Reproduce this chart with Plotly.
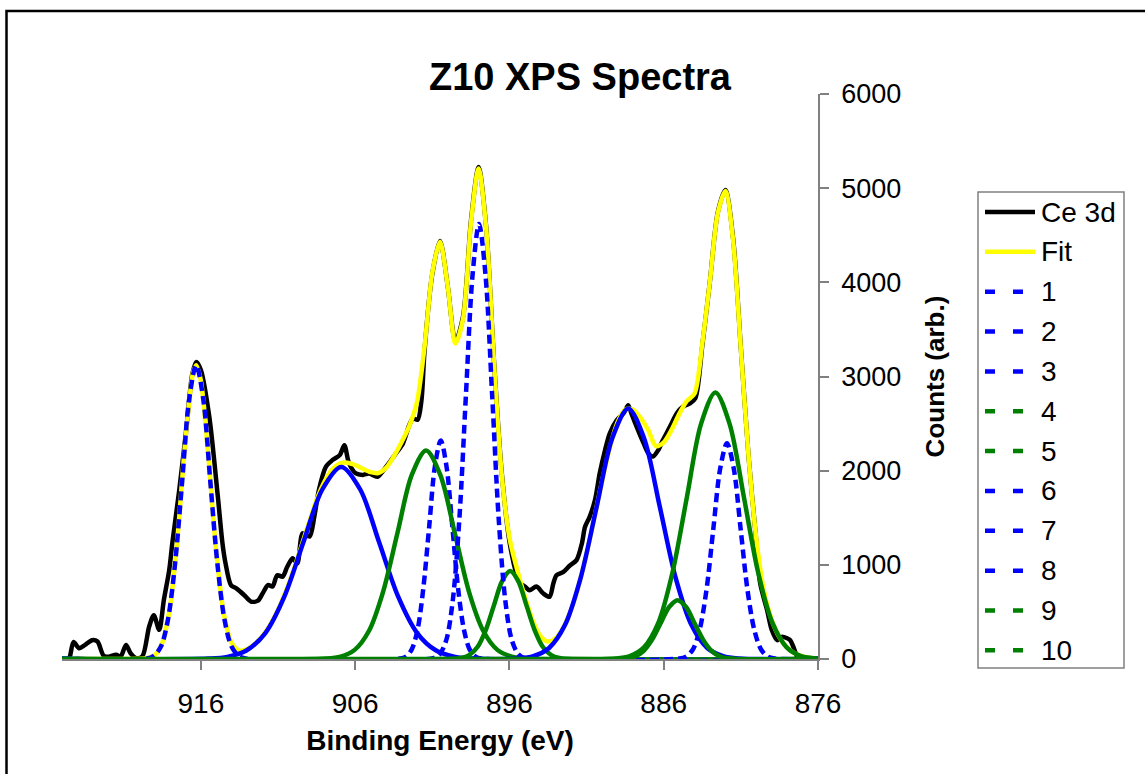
import plotly.graph_objects as go

# ---------------- Ce 3d measured spectrum ----------------
ce3d_energy = [924.6, 924.5, 924.25, 923.9, 923.5, 923.05, 922.7, 922.3, 921.95, 921.5,
               921.2, 920.85, 920.55, 920.2, 919.8, 919.35, 919.05, 918.7, 918.4, 918.05,
               917.85, 917.4, 916.95, 916.55, 916.3, 916.0, 915.45, 914.9, 914.6, 914.4,
               914.05, 913.7, 913.2, 912.75, 912.3, 912.0, 911.65, 911.35, 911.05, 910.7,
               910.4, 910.05, 909.75, 909.4, 908.95, 908.65, 908.35, 907.9, 907.45, 907.0,
               906.7, 906.4, 905.95, 905.5, 905.1, 904.55, 904.0, 903.35, 902.9, 902.5,
               902.25, 901.95, 901.7, 901.5, 901.0, 900.5, 900.0, 899.5, 899.0, 898.5,
               898.0, 897.5, 897.0, 896.5, 896.0, 895.5, 895.3, 895.0, 894.7, 894.25,
               893.8, 893.4, 893.15, 892.95, 892.5, 892.1, 891.65, 891.3, 891.1, 890.8,
               890.45, 890.15, 889.8, 889.5, 889.05, 888.6, 888.3, 888.1, 887.75, 887.3,
               887.0, 886.7, 886.35, 886.05, 885.6, 885.15, 884.75, 884.3, 883.95, 883.5,
               883.0, 882.5, 882.0, 881.5, 881.0, 880.5, 880.0, 879.75, 879.3, 879.0,
               878.65, 878.35, 878.0, 877.8, 877.6, 877.35, 877.2]
ce3d_counts = [0, 20, 180, 115, 150, 200, 185, 35, 25, 45,
               25, 150, 60, 10, 25, 345, 465, 310, 625, 945,
               1230, 1795, 2430, 3030, 3155, 3070, 2570, 1725, 1230, 1015,
               785, 750, 680, 610, 620, 695, 785, 770, 890, 875,
               980, 1070, 1015, 1335, 1300, 1510, 1795, 2040, 2115, 2165,
               2270, 2080, 1970, 1955, 1970, 1935, 2040, 2185, 2290, 2480,
               2555, 2540, 2750, 3280, 4090, 4440, 3960, 3370, 3640, 4640,
               5225, 4570, 3160, 1980, 1250, 880, 805, 770, 730, 770,
               695, 660, 805, 890, 925, 990, 1050, 1230, 1405, 1510,
               1690, 1970, 2220, 2395, 2535, 2610, 2695, 2610, 2465, 2290,
               2185, 2150, 2220, 2325, 2465, 2610, 2680, 2715, 2770, 3330,
               4020, 4740, 4980, 4460, 3300, 2150, 1250, 805, 520, 310,
               200, 235, 220, 200, 130, 25, 0]

# ---------------- Envelope of the peak fit ----------------
fit_energy = [925, 921, 920, 919.5, 919, 918.5, 918, 917.5, 917, 916.5,
              916.3, 916, 915.5, 915, 914.5, 914, 913.5, 913, 912.5, 912,
              911.5, 911, 910.5, 910, 909.5, 909, 908.5, 908, 907.5, 907,
              906.5, 906, 905.5, 905, 904.5, 904, 903.5, 903, 902.5, 902,
              901.5, 901, 900.5, 900, 899.5, 899, 898.5, 898, 897.5, 897,
              896.5, 896, 895.5, 895, 894.5, 894, 893.5, 893, 892.5, 892,
              891.5, 891, 890.5, 890, 889.5, 889, 888.5, 888, 887.5, 887,
              886.5, 886, 885.5, 885, 884.5, 884, 883.5, 883, 882.5, 882,
              881.5, 881, 880.5, 880, 879.5, 879, 878.5, 878, 877.5, 877,
              876.5, 876]
fit_counts = [0, 0, 2, 8, 40, 172, 553, 1316, 2325, 3046,
              3120, 2955, 2125, 1132, 470, 170, 90, 105, 160, 245,
              365, 520, 715, 940, 1190, 1445, 1690, 1880, 2010, 2075,
              2085, 2060, 2020, 1985, 1975, 2030, 2150, 2300, 2470, 2720,
              3320, 4100, 4430, 3960, 3350, 3620, 4620, 5210, 4560, 3150,
              1960, 1290, 950, 660, 410, 245, 185, 220, 335, 525,
              790, 1120, 1495, 1885, 2240, 2510, 2650, 2650, 2560, 2430,
              2260, 2300, 2430, 2600, 2740, 2820, 3350, 4020, 4730, 4970,
              4440, 3290, 2150, 1280, 720, 415, 230, 120, 60, 27,
              11, 5]

# ---------------- Fitted component peaks 1-10 ----------------
peak1_energy = [925, 919.50, 919.04, 918.58, 918.13, 917.67, 917.21, 916.76, 916.30,
                915.84, 915.39, 914.93, 914.47, 914.02, 913.56, 913.10, 876]
peak1_counts = [0, 5, 35, 135, 420, 1015, 1890, 2755, 3120,
                2755, 1890, 1015, 420, 135, 35, 5, 0]

peak2_energy = [925, 915.51, 914.28, 913.05, 911.82, 910.59, 909.36, 908.13, 906.90,
                905.67, 904.44, 903.21, 901.98, 900.75, 899.52, 898.29, 876]
peak2_counts = [0, 5, 23, 90, 276, 662, 1237, 1800, 2040,
                1800, 1237, 662, 276, 90, 23, 5, 0]

peak3_energy = [925, 903.08, 902.70, 902.33, 901.95, 901.58, 901.20, 900.83, 900.45,
                900.08, 899.70, 899.33, 898.95, 898.58, 898.20, 897.83, 876]
peak3_counts = [0, 5, 26, 102, 314, 753, 1407, 2047, 2320,
                2047, 1407, 753, 314, 102, 26, 5, 0]

peak4_energy = [925, 907.88, 906.95, 906.03, 905.10, 904.18, 903.25, 902.33, 901.40,
                900.48, 899.55, 898.63, 897.70, 896.78, 895.85, 894.93, 876]
peak4_counts = [0, 5, 25, 97, 300, 719, 1343, 1955, 2215,
                1955, 1343, 719, 300, 97, 25, 5, 0]

peak5_energy = [925, 899.67, 899.14, 898.61, 898.07, 897.54, 897.01, 896.48, 895.95,
                895.42, 894.89, 894.36, 893.83, 893.29, 892.76, 892.23, 876]
peak5_counts = [0, 2, 10, 41, 127, 304, 567, 825, 935,
                825, 567, 304, 127, 41, 10, 2, 0]

peak6_energy = [925, 900.94, 900.52, 900.09, 899.67, 899.24, 898.82, 898.39, 897.97,
                897.55, 897.12, 896.70, 896.27, 895.85, 895.42, 895.00, 876]
peak6_counts = [0, 10, 51, 203, 625, 1500, 2802, 4077, 4620,
                4077, 2802, 1500, 625, 203, 51, 10, 0]

peak7_energy = [925, 895.48, 894.45, 893.43, 892.40, 891.38, 890.35, 889.33, 888.30,
                887.28, 886.25, 885.23, 884.20, 883.18, 882.15, 881.13, 876]
peak7_counts = [0, 6, 30, 117, 360, 864, 1613, 2347, 2660,
                2347, 1613, 864, 360, 117, 30, 6, 0]

peak8_energy = [925, 884.99, 884.55, 884.11, 883.67, 883.22, 882.78, 882.34, 881.90,
                881.46, 881.02, 880.58, 880.13, 879.69, 879.25, 878.81, 876]
peak8_counts = [0, 5, 25, 101, 310, 744, 1389, 2021, 2290,
                2021, 1389, 744, 310, 101, 25, 5, 0]

peak9_energy = [925, 888.96, 888.41, 887.86, 887.31, 886.76, 886.20, 885.65, 885.10,
                884.55, 884.00, 883.44, 882.89, 882.34, 881.79, 881.24, 876]
peak9_counts = [0, 1, 7, 27, 85, 203, 379, 552, 625,
                552, 379, 203, 85, 27, 7, 1, 0]

peak10_energy = [925, 889.13, 888.20, 887.28, 886.35, 885.43, 884.50, 883.58, 882.65,
                 881.73, 880.80, 879.88, 878.95, 878.03, 877.10, 876.18, 876]
peak10_counts = [0, 6, 31, 124, 383, 919, 1716, 2497, 2830,
                 2497, 1716, 919, 383, 124, 31, 6, 0]

peak_names = ["1", "2", "3", "4", "5", "6", "7", "8", "9", "10"]
peak_energies = [peak1_energy, peak2_energy, peak3_energy, peak4_energy, peak5_energy,
                 peak6_energy, peak7_energy, peak8_energy, peak9_energy, peak10_energy]
peak_counts = [peak1_counts, peak2_counts, peak3_counts, peak4_counts, peak5_counts,
               peak6_counts, peak7_counts, peak8_counts, peak9_counts, peak10_counts]

x_ticks = [916, 906, 896, 886, 876]
y_ticks = [0, 1000, 2000, 3000, 4000, 5000, 6000]

BLUE = "#0000FF"
GREEN = "#008000"
BLACK = "#000000"
YELLOW = "#FFFF00"
peak_colors = [BLUE, BLUE, BLUE, GREEN, GREEN, BLUE, BLUE, BLUE, GREEN, GREEN]
# narrow peaks show their dash pattern, the broad ones read as solid strokes
peak_dashes = ["9px,5px", "solid", "9px,5px", "solid", "solid",
               "9px,5px", "solid", "9px,5px", "solid", "solid"]

FONT = "Liberation Sans, Arial, Helvetica, sans-serif"
AXIS_GREY = "#808080"

# plot-area geometry in pixels (used to place the frame and the key box)
W, H = 1145, 774
M_L, M_R, M_T, M_B = 62, 327, 94, 115
PLOT_W = W - M_L - M_R
PLOT_H = H - M_T - M_B


def px_x(px):
    return (px - M_L) / PLOT_W


def px_y(py):
    return (H - M_B - py) / PLOT_H


fig = go.Figure()

fig.add_trace(go.Scatter(
    x=ce3d_energy, y=ce3d_counts, name="Ce 3d", mode="lines", showlegend=False,
    line=dict(color=BLACK, width=4.5, shape="spline", smoothing=0.8)))
fig.add_trace(go.Scatter(
    x=fit_energy, y=fit_counts, name="Fit", mode="lines", showlegend=False,
    line=dict(color=YELLOW, width=4.5, shape="spline", smoothing=0.8)))

for name, ex, cy, col, dash in zip(peak_names, peak_energies, peak_counts,
                                    peak_colors, peak_dashes):
    fig.add_trace(go.Scatter(
        x=ex, y=cy, name=name, mode="lines", showlegend=False,
        line=dict(color=col, width=4.5, dash=dash, shape="spline", smoothing=0.9)))

# ---------------- key box at the right ----------------
key_labels = ["Ce 3d", "Fit"] + peak_names
key_colors = [BLACK, YELLOW] + peak_colors
# two short dashes per component key
key_dashes = ["solid", "solid"] + ["10px,18px,10px,40px"] * len(peak_names)
KEY_LEFT, KEY_RIGHT, KEY_TOP, KEY_BOTTOM = 978, 1124, 192, 668
ROW0, ROW_STEP = 212, 39.85

shapes = [
    # outer chart frame
    dict(type="rect", xref="paper", yref="paper",
         x0=px_x(6.5), x1=1.5, y0=-0.4, y1=px_y(11),
         line=dict(color=BLACK, width=2.5), fillcolor="rgba(0,0,0,0)", layer="below"),
    # key border
    dict(type="rect", xref="paper", yref="paper",
         x0=px_x(KEY_LEFT), x1=px_x(KEY_RIGHT), y0=px_y(KEY_BOTTOM), y1=px_y(KEY_TOP),
         line=dict(color=AXIS_GREY, width=1.5), fillcolor="white", layer="above"),
]
annotations = []
for i, (lab, col, dash) in enumerate(zip(key_labels, key_colors, key_dashes)):
    yrow = px_y(ROW0 + i * ROW_STEP)
    shapes.append(dict(type="line", xref="paper", yref="paper",
                       x0=px_x(985), x1=px_x(1035), y0=yrow, y1=yrow,
                       line=dict(color=col, width=4.5, dash=dash), layer="above"))
    annotations.append(dict(text=lab, xref="paper", yref="paper",
                            x=px_x(1039), y=yrow, xanchor="left", yanchor="middle",
                            showarrow=False, font=dict(size=28, family=FONT, color=BLACK)))

fig.update_layout(
    width=W, height=H,
    margin=dict(l=M_L, r=M_R, t=M_T, b=M_B, pad=0),
    paper_bgcolor="white", plot_bgcolor="white",
    font=dict(family=FONT, color="black"),
    showlegend=False,
    title=dict(text="<b>Z10 XPS Spectra</b>", x=580 / W, xanchor="center",
               y=1 - 77 / H, yanchor="middle", font=dict(size=38, family=FONT)),
    xaxis=dict(range=[925, 876], autorange=False, tickvals=x_ticks,
               ticks="outside", ticklen=9, tickwidth=1.5, tickcolor=AXIS_GREY,
               showline=True, linecolor=AXIS_GREY, linewidth=1.5,
               showgrid=False, zeroline=False, layer="below traces",
               tickfont=dict(size=28), ticklabelstandoff=10, automargin=False,
               title=dict(text="<b>Binding Energy (eV)</b>", font=dict(size=28),
                          standoff=12)),
    yaxis=dict(side="right", range=[0, 6000], autorange=False, tickvals=y_ticks,
               ticks="outside", ticklen=9, tickwidth=1.5, tickcolor=AXIS_GREY,
               showline=True, linecolor=AXIS_GREY, linewidth=1.5,
               showgrid=False, zeroline=False, layer="below traces",
               tickfont=dict(size=27), ticklabelstandoff=7, automargin=False,
               title=dict(text="<b>Counts (arb.)</b>", font=dict(size=26),
                          standoff=26)),
    shapes=shapes,
    annotations=annotations,
)

fig.write_html("out.html")
